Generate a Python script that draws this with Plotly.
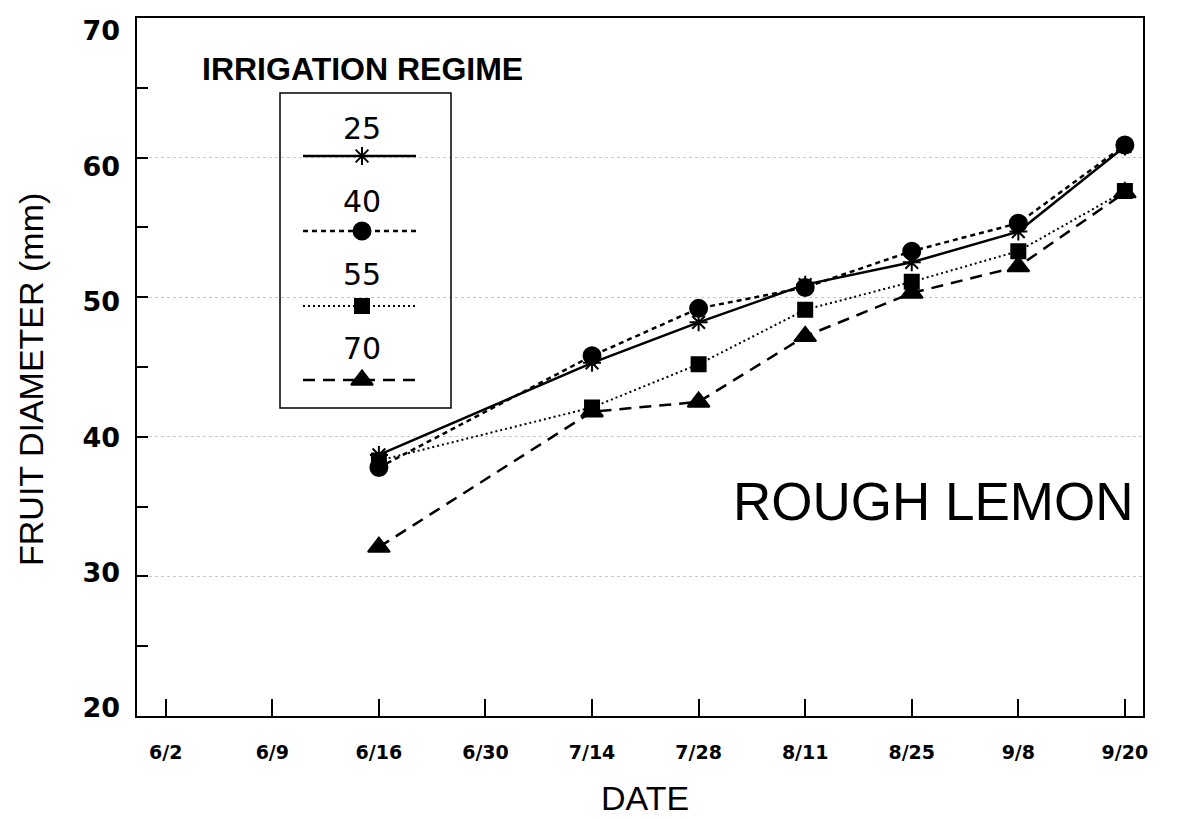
import plotly.graph_objects as go

dates = ["6/2", "6/9", "6/16", "6/30", "7/14", "7/28", "8/11", "8/25", "9/8", "9/20"]
obs_dates = ["6/16", "7/14", "7/28", "8/11", "8/25", "9/8", "9/20"]

regimes = ["25", "40", "55", "70"]
r25 = [38.7, 45.3, 48.2, 50.9, 52.5, 54.7, 60.8]
r40 = [37.8, 45.8, 49.2, 50.7, 53.3, 55.3, 60.9]
r55 = [38.3, 42.1, 45.2, 49.1, 51.1, 53.3, 57.6]
r70 = [32.1, 41.8, 42.5, 47.2, 50.3, 52.2, 57.5]

yticks = [20, 30, 40, 50, 60, 70]

series = [r25, r40, r55, r70]
symbols = ["asterisk-open", "circle", "square", "triangle-up"]
sizes = [15, 17, 14, 19]
dashes = ["solid", "5px,4px", "2px,3px", "12px,8px"]
widths = [2.5, 2.5, 2, 2.5]

idx = {d: i for i, d in enumerate(dates)}
fig = go.Figure()
for name, vals, sym, sz, ds, w in zip(regimes, series, symbols, sizes, dashes, widths):
    fig.add_trace(go.Scatter(
        x=[idx[d] for d in obs_dates], y=vals, mode="lines+markers", name=name,
        line=dict(color="black", width=w, dash=ds),
        marker=dict(symbol=sym, size=sz, color="black", line=dict(color="black", width=2)),
        showlegend=False,
    ))

# empty trace so the label-only y axis (y3) is drawn
fig.add_trace(go.Scatter(x=[], y=[], xaxis="x", yaxis="y3", showlegend=False, hoverinfo="skip"))

# target plot-area position in page pixels (page body has an 8px margin)
L, R, T, B = 137, 1143, 18, 716
OFF = 8
W, H = 1185 - OFF, 819 - OFF


def px(x):
    return (x - L) / (R - L)


def py(y):
    return (B - y) / (B - T)


# custom legend in pixel-like overlay axes
leg_text_y = [128, 201, 274, 348]
leg_line_y = [156, 231, 306, 380]
leg_x0, leg_x1, leg_cx = 303, 416, 362
for name, sym, sz, ds, w, ty, ly in zip(regimes, symbols, sizes, dashes, widths, leg_text_y, leg_line_y):
    fig.add_trace(go.Scatter(
        x=[leg_x0, leg_cx, leg_x1], y=[ly, ly, ly], xaxis="x2", yaxis="y2",
        mode="lines", line=dict(color="black", width=w, dash=ds), showlegend=False, hoverinfo="skip"))
    fig.add_trace(go.Scatter(
        x=[leg_cx], y=[ly], xaxis="x2", yaxis="y2", mode="markers",
        marker=dict(symbol=sym, size=sz, color="black", line=dict(color="black", width=2)),
        showlegend=False, hoverinfo="skip"))
    fig.add_annotation(x=leg_cx, y=ty, xref="x2", yref="y2", text=name, showarrow=False,
                       xanchor="center", yanchor="middle",
                       font=dict(family="DejaVu Sans", size=30, color="black"))

fig.add_shape(type="rect", x0=280, x1=451, y0=93, y1=408, xref="x2", yref="y2",
              line=dict(color="black", width=1.5))
fig.add_annotation(x=px(200), y=py(69), xref="paper", yref="paper", text="IRRIGATION REGIME",
                   showarrow=False, xanchor="left", yanchor="middle",
                   font=dict(family="Liberation Sans", size=32, color="black", weight="bold"))
fig.add_annotation(x=px(933), y=py(502), xref="paper", yref="paper", text="ROUGH LEMON",
                   showarrow=False, xanchor="center", yanchor="middle",
                   font=dict(family="Liberation Sans", size=53, color="black"))
# axis titles
fig.add_annotation(x=px(645), y=py(798), xref="paper", yref="paper", text="DATE", showarrow=False,
                   xanchor="center", yanchor="middle",
                   font=dict(family="Liberation Sans", size=34, color="black"))
fig.add_annotation(x=px(31), y=py(380), xref="paper", yref="paper", text="FRUIT DIAMETER (mm)",
                   showarrow=False, textangle=-90, xanchor="center", yanchor="middle",
                   font=dict(family="Liberation Sans", size=34, color="black"))

fig.update_layout(
    width=W, height=H,
    margin=dict(l=L - OFF, r=1185 - R, t=T - OFF, b=819 - B, autoexpand=False),
    paper_bgcolor="white", plot_bgcolor="white",
    xaxis=dict(
        range=[-0.27, 9.17], tickmode="array", tickvals=list(range(len(dates))), ticktext=dates,
        ticks="inside", ticklen=17, tickwidth=1.5, tickcolor="black",
        showline=True, linecolor="black", linewidth=2, mirror=True, showgrid=False, zeroline=False,
        tickfont=dict(family="DejaVu Sans", size=19, color="black", weight="bold"),
        ticklabelstandoff=18, automargin=False, ticklabeloverflow="allow",
    ),
    yaxis=dict(
        range=[20, 70], tickmode="array", tickvals=yticks, showticklabels=False,
        ticks="inside", ticklen=11, tickwidth=1.5, tickcolor="black",
        minor=dict(dtick=5, ticks="inside", ticklen=11, tickwidth=1.5, tickcolor="black", showgrid=False),
        showline=True, linecolor="black", linewidth=2, mirror=True,
        showgrid=True, gridcolor="#c8c8c8", griddash="dot", gridwidth=1, zeroline=False,
        automargin=False,
    ),
    # label-only axis: the printed tick labels sit on a slightly tighter scale than the ticks
    yaxis3=dict(
        range=[19.41, 70.96], overlaying="y", anchor="x", side="left",
        tickmode="array", tickvals=yticks, ticks="", showline=False, showgrid=False, zeroline=False,
        tickfont=dict(family="DejaVu Sans", size=27, color="black", weight="bold"),
        ticklabelstandoff=16, automargin=False, ticklabeloverflow="allow", fixedrange=True,
    ),
    xaxis2=dict(range=[L, R], overlaying="x", visible=False, fixedrange=True),
    yaxis2=dict(range=[B, T], overlaying="y", visible=False, fixedrange=True),
)

fig.write_html("out.html")
